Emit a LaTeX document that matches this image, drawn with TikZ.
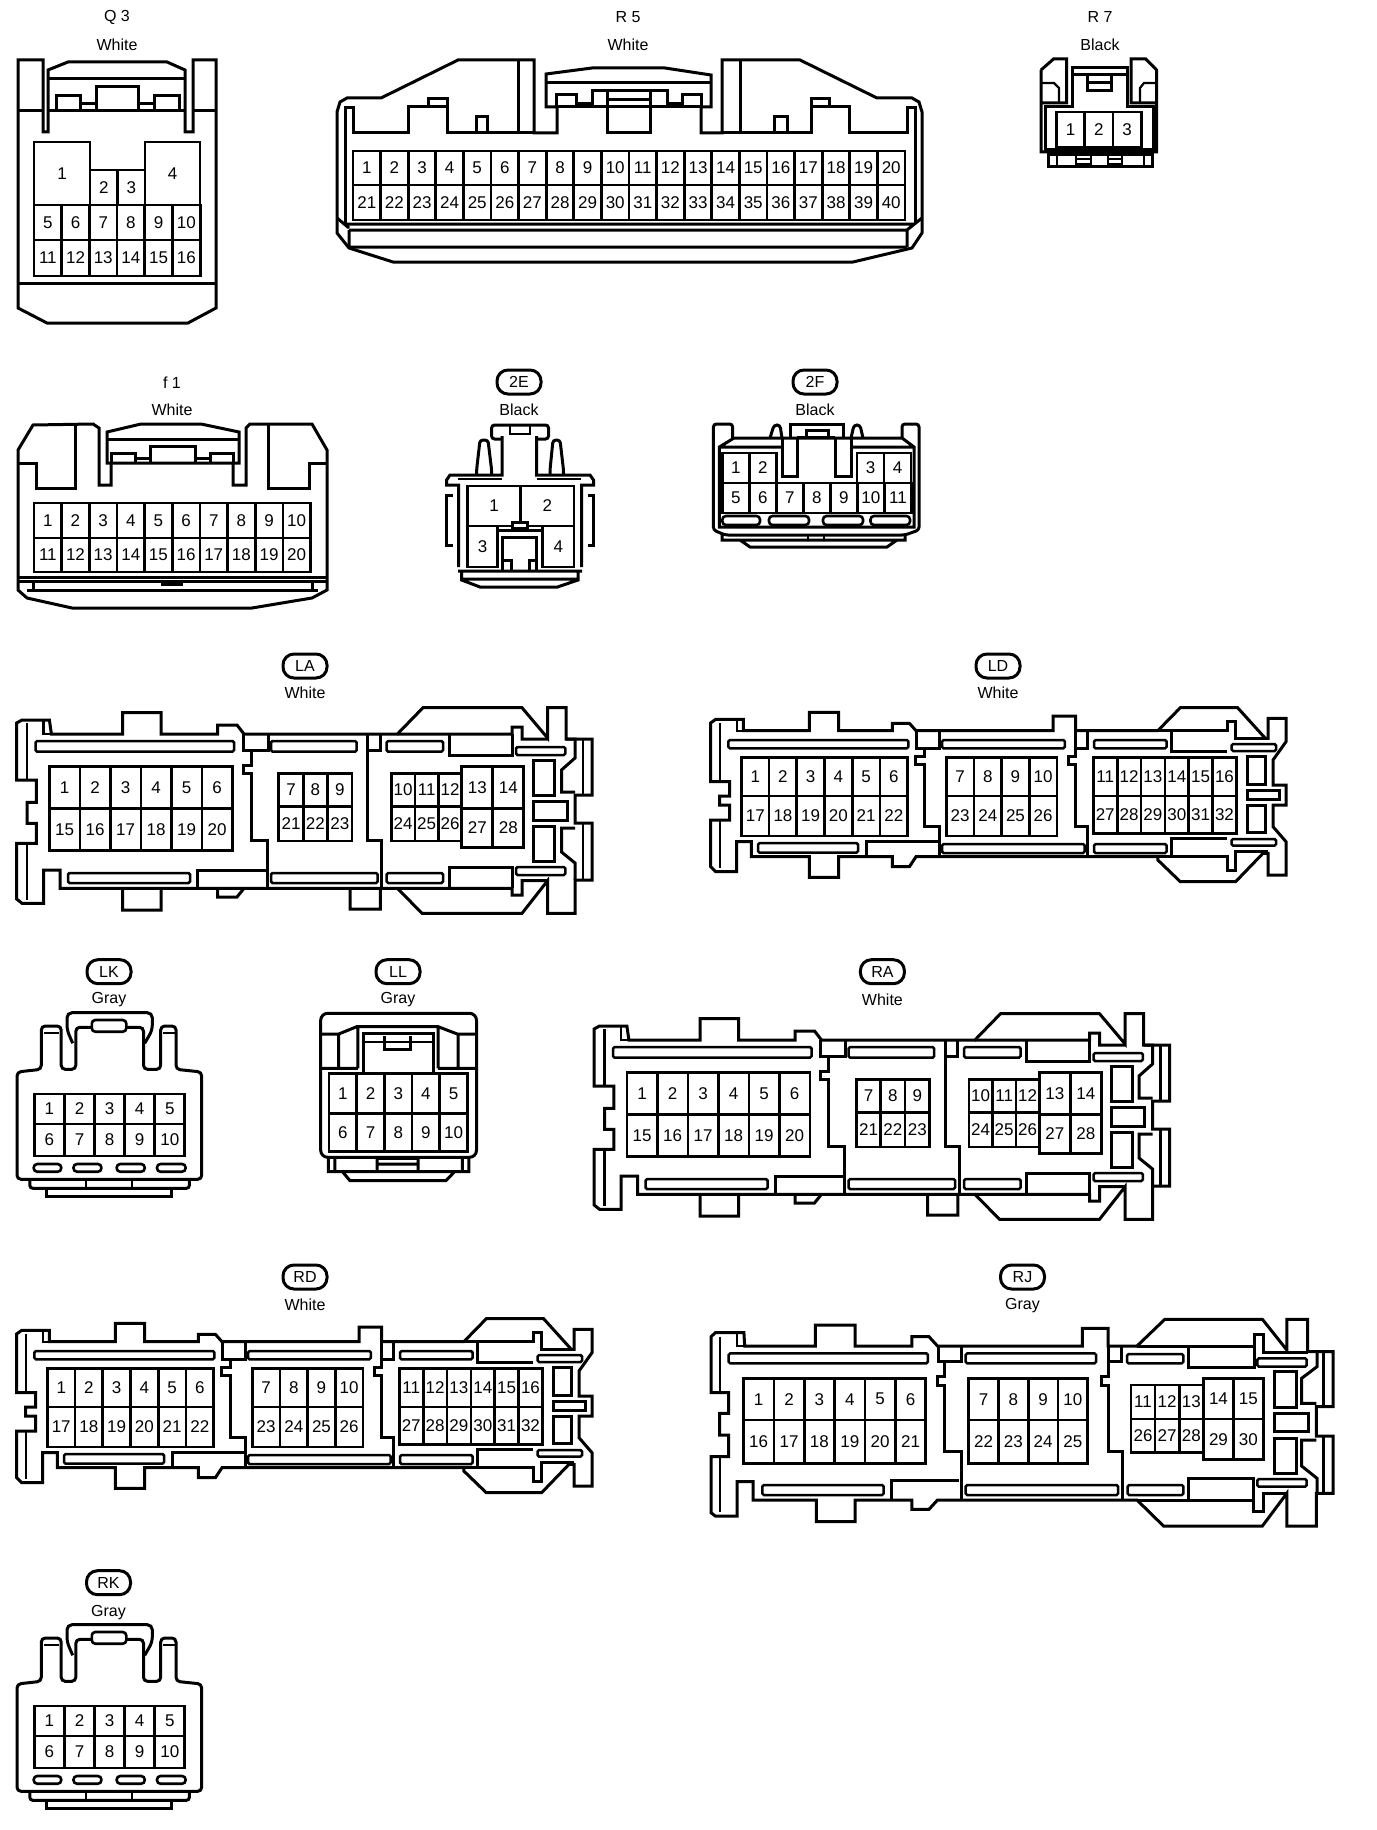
\documentclass[tikz,border=0pt]{standalone}
\usepackage{fontspec}
\setmainfont{Liberation Sans}
\tikzstyle{pin}=[rectangle,draw=black,line width=2.7pt,inner sep=0pt,font=\fontsize{17}{17}\selectfont]
\tikzstyle{caption}=[inner sep=0pt,font=\fontsize{16}{16}\selectfont]
\tikzstyle{pill}=[rectangle,draw=black,line width=3pt,rounded corners=11pt,minimum width=44pt,minimum height=24pt,inner sep=0pt,font=\fontsize{16}{16}\selectfont]
\tikzstyle{shell}=[line width=3pt,line join=miter]
\tikzstyle{fine}=[line width=2.2pt]
\tikzstyle{slot}=[line width=2.5pt,rounded corners=1.5pt]
\tikzstyle{oval}=[line width=2.6pt,rounded corners=3.5pt]
\newcommand{\pinrow}[7]{%
  \foreach \col in {1,...,#4} {
    \pgfmathsetmacro\pincx{#2+(\col-.5)*#3}
    \pgfmathsetmacro\pincy{(#5+#6)/2}
    \pgfmathsetmacro\pinw{#3}
    \pgfmathsetmacro\pinh{#6-#5}
    \pgfmathtruncatemacro\pinno{#7+\col-1}
    \node[pin,minimum width=\pinw pt,minimum height=\pinh pt] at (\pincx,\pincy) (#1-\pinno) {\pinno};
  }}
\newcommand{\bodyla}[1]{%
  \draw[shell] (16.6,723) -- (22,720) -- (49.4,720) -- (51.4,734) -- (122.6,734) -- (122.6,712.7) -- (161,712.7) -- (161,734) -- (217.5,734) -- (217.5,725) -- (237,725) -- (244,734) -- (397.4,734) -- (423,707.7) -- (522,707.7) -- (547.6,738) -- (547.6,707.7) -- (566,707.7) -- (566,739) -- (592,739) -- (592,795) -- (575,795) -- (575,823) -- (592,823) -- (592,880) -- (575,880) -- (575,913.3) -- (547.6,913.3) -- (547.6,880.7) -- (522,913.3) -- (422,913.3) -- (397.4,888.3) -- (60,888.3) -- (60,870) -- (43.5,870) -- (43.5,903.3) -- (22,903.3) -- (16.6,899) -- (16.6,843.3) -- (36.4,843.3) -- (36.4,823.3) -- (27,823.3) -- (27,802.3) -- (36.4,802.3) -- (36.4,780) -- (16.6,780) -- cycle;
  \draw[fine] (27,723) -- (27,780) (27,843.3) -- (27,900) (583,739) -- (583,795) (583,823) -- (583,880) (43.5,720) -- (43.5,734) -- (51.4,734);
  \draw[shell] (397.4,734) -- (512,734) -- (512,727) -- (522,727) -- (522,739) -- (547.6,739) (566,739) -- (575,739) -- (575,758) -- (561.5,770) -- (561.5,792) -- (575,792);
  \draw[shell] (397.4,888.3) -- (512,888.3) -- (512,895) -- (522,895) -- (522,880.7) -- (547.6,880.7) (575,828) -- (561.5,828) -- (561.5,852) -- (575,863) -- (575,880);
  \draw[shell] (122.6,888.3) -- (122.6,910) -- (161,910) -- (161,888.3) (217.5,888.3) -- (217.5,897) -- (237,897) -- (244,888.3) (350,888.3) -- (350,909) -- (380.4,909) -- (380.4,888.3);
  \draw[slot] (35.6,741) rectangle (234,751.7) (271,741) rectangle (356.6,751.7) (386.7,741) rectangle (443,751.7) (516,747) rectangle (565.4,755);
  \draw[slot] (68,873) rectangle (190,883) (271,873) rectangle (377.6,883) (386.7,873) rectangle (443,883) (516,867) rectangle (565.4,875);
  \draw[shell] (243,734) -- (243,750) -- (268,750) -- (268,734) (367.7,734) -- (367.7,750) -- (380,750) -- (380,734) (449,734) -- (449,755.7) -- (512,755.7) -- (512,734);
  \draw[shell] (197.7,888) -- (197.7,870) -- (267,870) (449,888) -- (449,867.3) -- (512,867.3) -- (512,888);
  \draw[shell] (251,750) -- (251,765) -- (243,765) -- (243,773) -- (251,773) -- (251,840) -- (267,840) -- (267,888) (367.7,750) -- (367.7,840) -- (381.6,840) -- (381.6,888);
  \draw[shell] (533.8,760.7) rectangle (554.7,795) (533.8,801) rectangle (567.4,820) (533.8,826) rectangle (554.7,861.7);
  \pinrow{#1}{49.4}{30.5}{6}{766.7}{808.3}{1}
  \pinrow{#1}{49.4}{30.5}{6}{808.3}{850.7}{15}
  \pinrow{#1}{278.8}{24.4}{3}{773.3}{806.7}{7}
  \pinrow{#1}{278.8}{24.4}{3}{806.7}{841}{21}
  \pinrow{#1}{391.4}{23.5}{3}{773.3}{806.7}{10}
  \pinrow{#1}{391.4}{23.5}{3}{806.7}{841}{24}
  \pinrow{#1}{461.8}{31}{2}{766.7}{808.3}{13}
  \pinrow{#1}{461.8}{31}{2}{808.3}{847.3}{27}
}
\newcommand{\bodyld}[1]{%
  \draw[shell] (710.6,723) -- (715.7,719.3) -- (743.4,719.3) -- (743.4,730.7) -- (809.4,730.7) -- (809.4,712.3) -- (838.7,712.3) -- (838.7,730.7) -- (892.4,730.7) -- (892.4,723.3) -- (909.4,723.3) -- (916,730.7) -- (1053,730.7) -- (1053,716) -- (1075.5,716) -- (1075.5,730.7) -- (1157.8,730.7) -- (1180.3,707.7) -- (1237.6,707.7) -- (1265.3,738.3) -- (1268,738.3) -- (1268,718.3) -- (1286,718.3) -- (1286,741.7) -- (1273,760) -- (1273,785) -- (1286,785) -- (1286,805) -- (1273,805) -- (1273,826.7) -- (1286,841.7) -- (1286,875) -- (1268,875) -- (1268,853.3) -- (1263,853.3) -- (1235.6,881.7) -- (1180.3,881.7) -- (1157.8,860) -- (1157.8,856.7) -- (916,856.7) -- (909.4,866.7) -- (892.4,866.7) -- (892.4,856.7) -- (838.7,856.7) -- (838.7,877.3) -- (809.4,877.3) -- (809.4,856.7) -- (751.3,856.7) -- (751.3,841.7) -- (736.7,841.7) -- (736.7,871.7) -- (715.7,871.7) -- (710.6,866.7) -- (710.6,820) -- (729.5,820) -- (729.5,805) -- (719.7,805) -- (719.7,796) -- (729.5,796) -- (729.5,781.7) -- (710.6,781.7) -- cycle;
  \draw[fine] (719.7,723) -- (719.7,781.7) (719.7,820) -- (719.7,868) (736.7,719.3) -- (736.7,730.7) -- (743.4,730.7);
  \draw[shell] (1157.8,730.7) -- (1227,730.7) -- (1227,721.7) -- (1235,721.7) -- (1235,738.3) -- (1268,738.3);
  \draw[shell] (1157.8,856.7) -- (1227,856.7) -- (1227,870) -- (1235,870) -- (1235,851) -- (1268,851);
  \draw[slot] (728.4,740) rectangle (908.3,748.3) (942,740) rectangle (1064.8,748.3) (1094,740) rectangle (1166.5,748.3) (1231.7,744) rectangle (1276,751);
  \draw[slot] (758,843) rectangle (858,852.7) (942,844) rectangle (1084.6,853) (1094,844) rectangle (1166.5,853) (1231.7,839) rectangle (1276,845.7);
  \draw[shell] (916,730.7) -- (916,748.3) -- (939,748.3) -- (939,730.7) (1075.5,748.3) -- (1087.4,748.3) -- (1087.4,730.7) (1171.6,730.7) -- (1171.6,751.7) -- (1227,751.7);
  \draw[shell] (866,856.7) -- (866,841.7) -- (939,841.7) (1171.6,856.7) -- (1171.6,838) -- (1227,838);
  \draw[shell] (924,748.3) -- (924,756.7) -- (915.4,756.7) -- (915.4,764) -- (924,764) -- (924,826) -- (939,826) -- (939,856.7);
  \draw[shell] (1075.5,730.7) -- (1075.5,756.7) -- (1068.4,756.7) -- (1068.4,764) -- (1075.5,764) -- (1075.5,826) -- (1087.4,826) -- (1087.4,856.7);
  \draw[shell] (1247.5,756.7) rectangle (1265.3,784) (1247.5,790) rectangle (1279,799) (1247.5,805.7) rectangle (1265.3,832.7);
  \pinrow{#1}{741.4}{27.7}{6}{757.3}{796}{1}
  \pinrow{#1}{741.4}{27.7}{6}{796}{836}{17}
  \pinrow{#1}{946.2}{27.7}{4}{757.3}{796}{7}
  \pinrow{#1}{946.2}{27.7}{4}{796}{836}{23}
  \pinrow{#1}{1093.3}{23.85}{6}{757.3}{796}{11}
  \pinrow{#1}{1093.3}{23.85}{6}{796}{833.3}{27}
}
\newcommand{\bodylk}[1]{%
  \draw[shell,rounded corners=4pt] (17,1085) -- (17,1072) -- (41.3,1069.3) -- (41.3,1026) -- (61.2,1026) -- (61.2,1069.3) -- (75.8,1069.3) -- (75.8,1027.3) -- (143.5,1027.3) -- (143.5,1069.3) -- (160.7,1069.3) -- (160.7,1026) -- (176,1026) -- (176,1069.3) -- (201.7,1072) -- (201.7,1179.3) -- (17,1179.3) -- cycle;
  \draw[shell,rounded corners=5pt] (72.7,1043.3) -- (67,1030) -- (67,1012.7) -- (152.3,1012.7) -- (152.3,1030) -- (144.7,1043.3);
  \draw[fine] (44,1033) -- (59,1033) (163,1033) -- (175,1033);
  \draw[oval,fill=white] (91.8,1020) rectangle (126.3,1031.7);
  \draw[oval] (33.7,1164) rectangle (61.2,1171.7) (73.5,1164) rectangle (101.4,1171.7) (116.7,1164) rectangle (144.7,1171.7) (157,1164) rectangle (185.6,1171.7);
  \draw[shell,rounded corners=3pt] (29.8,1179.3) -- (29.8,1188.3) -- (189.4,1188.3) -- (189.4,1179.3);
  \draw[fine] (86,1179.3) -- (86,1188.3) (132,1179.3) -- (132,1188.3);
  \draw[shell] (46.7,1188.3) rectangle (171.4,1196);
  \pinrow{#1}{34.4}{30.08}{5}{1094}{1124}{1}
  \pinrow{#1}{34.4}{30.08}{5}{1124}{1156}{6}
}
\begin{document}
\begin{tikzpicture}[x=1pt,y=-1pt]
      \useasboundingbox (0,0) rectangle (1376,1830);
      % Q3
      \node[caption] at (117,17) (q3) {Q 3};
      \node[caption] at (117,45) (q3col) {White};
      \draw[shell] (18,60) -- (43,60) -- (43,132) -- (48,132) -- (48,70) -- (68,62) -- (167,62) -- (185,70) -- (185,132) -- (193,132) -- (193,60) -- (216,60) -- (216,308) -- (188,323) -- (47,323) -- (18,308) -- cycle;
      \draw[shell] (18,111) -- (43,111) (48,111) -- (185,111) (193,111) -- (216,111) (48,79) -- (185,79) (18,283) -- (216,283);
      \draw[shell] (56,111) -- (56,96) -- (80,96) -- (80,111) (96.5,111) -- (96.5,87) -- (138,87) -- (138,111) (154,111) -- (154,96) -- (179,96) -- (179,111) (80,104) -- (96.5,104) (138,104) -- (154,104);
      \pinrow{q3}{34}{56}{1}{142}{205}{1}
      \pinrow{q3}{90}{27.5}{2}{170}{205}{2}
      \pinrow{q3}{145}{55}{1}{142}{205}{4}
      \pinrow{q3}{34}{27.7}{6}{205}{240}{5}
      \pinrow{q3}{34}{27.7}{6}{240}{276}{11}
      % R5
      \node[caption] at (628,17) (r5) {R 5};
      \node[caption] at (628,45) (r5col) {White};
      \draw[shell] (337,112) -- (340,102) -- (347,98) -- (381,98) -- (458,60) -- (534,60) -- (534,133) -- (557,133) -- (557,107) -- (546,107) -- (546,74) -- (592,68) -- (665,68) -- (711,75) -- (711,107) -- (701,107) -- (701,133) -- (722,133) -- (722,60) -- (800,60) -- (877,98) -- (912,98) -- (919,102) -- (922,112) -- (922,233) -- (912,248) -- (853,262) -- (393,262) -- (349,248) -- (337,233) -- cycle;
      \draw[shell] (345,224) -- (345,108) -- (353,108) -- (353,133) -- (408,133) -- (408,107) -- (428,107) -- (428,99) -- (447,99) -- (447,133) -- (534,133);
      \draw[shell] (915,224) -- (915,108) -- (907,108) -- (907,133) -- (849,133) -- (849,107) -- (829,107) -- (829,99) -- (811,99) -- (811,133) -- (722,133);
      \draw[shell] (428,107) -- (447,107) (811,107) -- (829,107) (518,60) -- (518,133) (740,60) -- (740,133) (476,133) -- (476,117) -- (487,117) -- (487,133) (774,133) -- (774,117) -- (787,117) -- (787,133);
      \draw[shell] (546,83) -- (711,83) (557,107) -- (701,107) (556,107) -- (556,95) -- (576,95) -- (576,107) (576,104) -- (592,104) (592,107) -- (592,91) -- (667,91) -- (667,107) (667,104) -- (682,104) (682,107) -- (682,95) -- (701,95) -- (701,107);
      \draw[shell] (607,91) -- (607,133) -- (650,133) -- (650,91) (607,100) -- (650,100);
      \draw[shell] (345,224) -- (915,224) (349,230) -- (907,230) (349,247) -- (907,247) (349,230) -- (349,247) (907,230) -- (907,247) (337,218) -- (349,228) (922,218) -- (907,230);
      \pinrow{r5}{353}{27.6}{20}{151}{185}{1}
      \pinrow{r5}{353}{27.6}{20}{185}{220}{21}
      % R7
      \node[caption] at (1100,17) (r7) {R 7};
      \node[caption] at (1100,45) (r7col) {Black};
      \draw[shell] (1041,70) -- (1053.5,59) -- (1066.7,59) -- (1066.7,103) -- (1041,103) (1041,70) -- (1041,152) -- (1156.6,152) -- (1156.6,70) -- (1145.7,59) -- (1131,59) -- (1131,103) -- (1156.6,103);
      \draw[shell] (1072,103) -- (1072,68) -- (1127.7,68) -- (1127.7,103) (1072,75) -- (1127.7,75) (1087,75) -- (1087,91) -- (1111,91) -- (1111,75) (1087,83) -- (1111,83);
      \draw[shell] (1072,103) -- (1072,107) -- (1045.6,107) -- (1045.6,150) -- (1153,150) -- (1153,107) -- (1127.7,107) -- (1127.7,103);
      \draw[fine] (1042,83) -- (1054,83) -- (1059,88) -- (1059,103) (1140,103) -- (1140,88) -- (1144,83) -- (1156,83);
      \draw[shell] (1048,155) rectangle (1152,167);
      \draw[fine] (1056.6,155) -- (1056.6,167) (1144,155) -- (1144,167) (1076,155) -- (1076,164) -- (1091,164) -- (1091,155) (1076,159) -- (1091,159) (1108,155) -- (1108,164) -- (1122,164) -- (1122,155) (1108,159) -- (1122,159);
      \pinrow{r7}{1056.6}{28.2}{3}{112}{147}{1}
      % f1
      \node[caption] at (172,383) (f1) {f 1};
      \node[caption] at (172,410) (f1col) {White};
      \draw[shell] (111,463) -- (111,485) -- (99,485) -- (99,428) -- (93,424) -- (33,425) -- (18,450) -- (18,590) -- (27,598) -- (72,608) -- (252,608) -- (312,598) -- (327,590) -- (327,450) -- (312,424) -- (250,424) -- (246,428) -- (246,485) -- (233,485) -- (233,463);
      \draw[shell] (107,463) -- (107,432) -- (141,424) -- (201,424) -- (239,432) -- (239,463) -- cycle;
      \draw[shell] (18,463) -- (36,463) -- (36,488) -- (75,488) -- (75,424) (268,424) -- (268,488) -- (309,488) -- (309,463) -- (327,463);
      \draw[shell] (107,439) -- (239,439) (111,463) -- (111,453) -- (135,453) -- (135,463) (135,458) -- (150,458) (150,463) -- (150,446) -- (195,446) -- (195,463) (195,458) -- (210,458) (210,463) -- (210,453) -- (233,453) -- (233,463);
      \draw[shell] (18,577) -- (327,577) (18,581) -- (327,581) (27,590) -- (318,590) (33,581) -- (33,590) (312,581) -- (312,590) (162,581) -- (162,584) -- (181,584) -- (181,581);
      \pinrow{f1}{34}{27.65}{10}{503}{538}{1}
      \pinrow{f1}{34}{27.65}{10}{538}{572}{11}
      % 2E
      \node[pill] at (519,382) (tag2e) {2E};
      \node[caption] at (519,410) (tag2ecol) {Black};
      \draw[shell,rounded corners=3pt] (502,439) -- (491.6,439) -- (491.6,425) -- (548.5,425) -- (548.5,439) -- (536.5,439);
      \draw[fine] (510,425) -- (510,434) -- (530,434) -- (530,425);
      \draw[shell] (502,436) -- (502,475) -- (450,475) -- (446.6,480) -- (446.6,485) -- (458.6,485) -- (458.6,567);
      \draw[shell] (536.5,436) -- (536.5,475) -- (590,475) -- (593.5,480) -- (593.5,485) -- (581.5,485) -- (581.5,567);
      \draw[shell,rounded corners=3pt] (476.6,475) -- (476.6,470) -- (480,440) -- (488,440) -- (491.6,470) -- (491.6,475) (550,475) -- (550,470) -- (553,440) -- (560,440) -- (563.5,470) -- (563.5,475);
      \draw[fine] (458,479) -- (502,479) (536.5,479) -- (581,479);
      \draw[shell] (452.6,495) -- (446.6,495) -- (446.6,545) -- (452.6,545) (587.5,495) -- (593.5,495) -- (593.5,545) -- (587.5,545);
      \pinrow{e2}{467.6}{53.2}{2}{486}{526}{1}
      \pinrow{e2}{467.6}{30}{1}{526}{567}{3}
      \pinrow{e2}{542.5}{31.5}{1}{526}{567}{4}
      \draw[shell,fill=white] (512.6,522) rectangle (527.6,528);
      \draw[shell] (497.6,530) -- (542.5,530) (502,570) -- (502,537) -- (536.5,537) -- (536.5,570) (502,560) -- (511,560) -- (511,570) (529,570) -- (529,560) -- (536.5,560);
      \draw[shell] (458,571) -- (582,571) (461.6,571) -- (461.6,580) -- (480,587) -- (557.5,587) -- (578,580) -- (578,571) (461.6,579) -- (578,579);
      % 2F
      \node[pill] at (815,382) (tag2f) {2F};
      \node[caption] at (815,410) (tag2fcol) {Black};
      \draw[shell,rounded corners=3pt] (732.6,438) -- (732.6,424) -- (713.4,424) -- (713.4,530) -- (725,535) -- (905,535) -- (919,530) -- (919,424) -- (902,424) -- (902,438);
      \draw[shell] (719.4,453) -- (719.4,447) -- (734,438) -- (902,438) -- (914,447) -- (914,453) (719.4,447) -- (782,447) (851,447) -- (914,447) (719.4,453) -- (719.4,527) -- (914,527) -- (914,453);
      \draw[shell,rounded corners=3pt] (770,438) -- (774,425) -- (780,425) -- (782,438) (851,438) -- (854,425) -- (860,425) -- (863,438);
      \draw[shell] (782,438) -- (782,476) -- (797,476) -- (797,438) (835,438) -- (835,476) -- (851,476) -- (851,438) (790,438) -- (790,424) -- (843,424) -- (843,438) (806,437) -- (806,430) -- (828.5,430) -- (828.5,437) (797,437) -- (835,437);
      \pinrow{f2}{722.4}{27}{2}{453}{483}{1}
      \pinrow{f2}{857}{27}{2}{453}{483}{3}
      \pinrow{f2}{722.4}{27}{7}{483}{513}{5}
      \draw[oval] (722.4,516) rectangle (760,525) (769,516) rectangle (809,525) (823,516) rectangle (863,525) (870.5,516) rectangle (910,525);
      \draw[shell] (722,535) -- (722,540) -- (905,540) -- (905,535) (740,540) -- (750,547) -- (887,547) -- (897,540);
      \draw[fine] (808,535) -- (808,540) (824,535) -- (824,540);
      % LA and LD
      \node[pill] at (305,666) (la) {LA};
      \node[caption] at (305,693) (lacol) {White};
      \bodyla{la}
      \node[pill] at (998,666) (ld) {LD};
      \node[caption] at (998,693) (ldcol) {White};
      \bodyld{ld}
      % LK, LL and RA
      \node[pill] at (109,971.7) (lk) {LK};
      \node[caption] at (109,1000) (lkcol) {Gray};
      \bodylk{lk}
      \node[pill] at (398,971.7) (ll) {LL};
      \node[caption] at (398,1000) (llcol) {Gray};
      \draw[shell,rounded corners=7pt] (320.7,1157.3) -- (320.7,1013.3) -- (476.5,1013.3) -- (476.5,1157.3) -- cycle;
      \draw[shell] (320.7,1034) -- (338.7,1034) -- (356.7,1026.7) -- (438.2,1026.7) -- (457.3,1034) -- (476.5,1034) (320.7,1068.3) -- (357.8,1068.3) (438.2,1068.3) -- (476.5,1068.3) (338.7,1034) -- (338.7,1068.3) (357.8,1026.7) -- (357.8,1068.3) (438.2,1026.7) -- (438.2,1068.3) (458.1,1034) -- (458.1,1068.3);
      \draw[shell] (363.6,1073) -- (363.6,1033.3) -- (433.2,1033.3) -- (433.2,1073) (384.6,1036) -- (384.6,1049.3) -- (410.3,1049.3) -- (410.3,1036);
      \draw[fine] (363.6,1041.7) -- (433.2,1041.7);
      \pinrow{ll}{329}{27.7}{5}{1073.3}{1113.3}{1}
      \pinrow{ll}{329}{27.7}{5}{1113.3}{1151.7}{6}
      \draw[shell] (328.4,1157.3) -- (328.4,1171.7) -- (468.8,1171.7) -- (468.8,1157.3) (334.9,1157.3) -- (334.9,1171.7) (462.3,1157.3) -- (462.3,1171.7) (342.5,1171.7) -- (350,1180.7) -- (445.8,1180.7) -- (454.6,1171.7) (377,1171.7) -- (377,1158.3) -- (418,1158.3) -- (418,1171.7) (377,1164) -- (418,1164);
      \node[pill] at (882.4,971.7) (ra) {RA};
      \node[caption] at (882.4,1000) (racol) {White};
      \begin{scope}[shift={(577.5,306)}]
        \bodyla{ra}
      \end{scope}
      % RD and RJ
      \node[pill] at (305,1277) (rd) {RD};
      \node[caption] at (305,1305) (rdcol) {White};
      \begin{scope}[shift={(-694,611)}]
        \bodyld{rd}
      \end{scope}
      \node[pill] at (1022.5,1277) (rj) {RJ};
      \node[caption] at (1022.5,1306) (rjcol) {Gray};
      \draw[shell] (711,1336.7) -- (715.3,1332.7) -- (743.9,1332.7) -- (744.7,1346) -- (815.4,1346) -- (815.4,1325) -- (855,1325) -- (855,1346) -- (911.8,1346) -- (911.8,1336.7) -- (929,1336.7) -- (937.5,1346) -- (1082.3,1346) -- (1082.3,1328.3) -- (1108,1328.3) -- (1108,1346) -- (1137,1346) -- (1164.8,1319.3) -- (1262.4,1319.3) -- (1286.8,1350) -- (1286.8,1319.3) -- (1307.5,1319.3) -- (1307.5,1351.7) -- (1333,1351.7) -- (1333,1406.7) -- (1316.3,1406.7) -- (1316.3,1436) -- (1333,1436) -- (1333,1493.3) -- (1316.3,1493.3) -- (1316.3,1526) -- (1286.8,1526) -- (1286.8,1493.3) -- (1262.4,1526) -- (1163.5,1526) -- (1137,1500) -- (937.5,1500) -- (929,1509.3) -- (911.8,1509.3) -- (911.8,1500) -- (855,1500) -- (855,1521.7) -- (816.3,1521.7) -- (816.3,1500) -- (753,1500) -- (753,1481.7) -- (737,1481.7) -- (737,1516) -- (715.3,1516) -- (711,1512.7) -- (711,1456.7) -- (728.7,1456.7) -- (728.7,1435) -- (719.5,1435) -- (719.5,1413.3) -- (728.7,1413.3) -- (728.7,1392.7) -- (711,1392.7) -- cycle;
      \draw[fine] (720.3,1336.7) -- (720.3,1392.7) (720.3,1456.7) -- (720.3,1512) (1323.4,1352) -- (1323.4,1406.7) (1323.4,1436) -- (1323.4,1493.3) (737,1332.7) -- (737,1346) -- (744.7,1346);
      \draw[slot] (728.7,1353.3) rectangle (927.8,1363.3) (965.7,1353.3) rectangle (1096,1363.3) (1127,1354) rectangle (1183.3,1363.3) (1257.4,1358.3) rectangle (1306.6,1366.7);
      \draw[slot] (762.4,1485) rectangle (883.6,1495) (965.7,1485) rectangle (1118,1495) (1127.7,1485) rectangle (1183.3,1495) (1257.4,1479) rectangle (1306.6,1486.7);
      \draw[shell] (938.3,1346) -- (938.3,1361.7) -- (961.5,1361.7) -- (961.5,1346) (1108,1361.7) -- (1121.4,1361.7) -- (1121.4,1346) (1137,1346) -- (1254,1346) (1188.8,1346) -- (1188.8,1367.3) -- (1254,1367.3) -- (1254,1334) -- (1263.3,1334) -- (1263.3,1352.7) -- (1307.5,1352.7);
      \draw[shell] (891,1500) -- (891,1480.7) -- (959.4,1480.7) (1137,1500) -- (1253,1500) (1188.8,1500) -- (1188.8,1478.3) -- (1253,1478.3) -- (1253,1511) -- (1263.3,1511) -- (1263.3,1493.3) -- (1286.8,1493.3);
      \draw[shell] (944.6,1361.7) -- (944.6,1376.7) -- (937,1376.7) -- (937,1385) -- (944.6,1385) -- (944.6,1451.7) -- (961.5,1451.7) -- (961.5,1500);
      \draw[shell] (1108,1346) -- (1108,1376.7) -- (1101.2,1376.7) -- (1101.2,1385) -- (1108,1385) -- (1108,1451.7) -- (1122.3,1451.7) -- (1122.3,1500);
      \draw[shell] (1317,1352) -- (1317,1366.7) -- (1301.6,1378.3) -- (1301.6,1403.3) -- (1316.3,1403.3) (1316.3,1440) -- (1301.6,1440) -- (1301.6,1466) -- (1317,1478.3) -- (1317,1493.3);
      \draw[shell] (1274,1371.7) rectangle (1296,1407.3) (1274,1413.3) rectangle (1308.7,1431.7) (1274,1438.3) rectangle (1296,1473.3);
      \pinrow{rj}{743.5}{30.37}{6}{1378.3}{1420}{1}
      \pinrow{rj}{743.5}{30.37}{6}{1420}{1463.3}{16}
      \pinrow{rj}{968.6}{29.8}{4}{1378.3}{1420}{7}
      \pinrow{rj}{968.6}{29.8}{4}{1420}{1463.3}{22}
      \pinrow{rj}{1131}{24.1}{3}{1385}{1419}{11}
      \pinrow{rj}{1131}{24.1}{3}{1419}{1452.7}{26}
      \pinrow{rj}{1203.5}{29.9}{2}{1378.3}{1419}{14}
      \pinrow{rj}{1203.5}{29.9}{2}{1419}{1459.3}{29}
      % RK
      \node[pill] at (108.5,1582.7) (rk) {RK};
      \node[caption] at (108.5,1612.3) (rkcol) {Gray};
      \begin{scope}[shift={(0,612)}]
        \bodylk{rk}
      \end{scope}
    \end{tikzpicture}
\end{document}
